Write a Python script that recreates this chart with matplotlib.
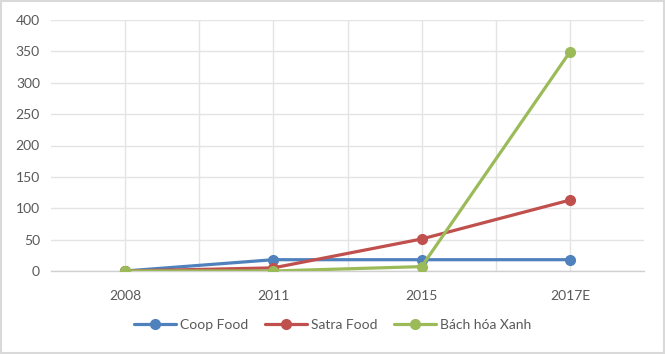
import matplotlib.pyplot as plt
from matplotlib.patches import Rectangle

years = ["2008", "2011", "2015", "2017E"]
coop_food = [0, 18, 18, 18]
satra_food = [0, 5, 51, 113]
bach_hoa_xanh = [0, 0, 7, 349]

series = [
    ("Coop Food", coop_food, "#4F81BD"),
    ("Satra Food", satra_food, "#C0504D"),
    ("Bách hóa Xanh", bach_hoa_xanh, "#9BBB59"),
]

plt.rcParams["font.family"] = ["Lato", "DejaVu Sans"]

fig = plt.figure(figsize=(6.65, 3.54), dpi=100)
ax = fig.add_axes([51 / 665, 1 - 271 / 354, 593 / 665, 251 / 354])

x = list(range(len(years)))
for name, vals, col in series:
    ax.plot(x, vals, color=col, linewidth=2.3, marker="o", markersize=7,
            label=name, solid_capstyle="round", zorder=3)

ax.set_xlim(-0.5, len(years) - 0.5)
ax.set_ylim(0, 400)
ax.set_yticks(range(0, 401, 50))
ax.set_xticks(x)
ax.set_xticklabels(years)
ax.set_xticks([i + 0.5 for i in range(len(years) - 1)], minor=True)

ax.grid(True, which="both", color="#E4E4E4", linewidth=1)
ax.set_axisbelow(True)
for s in ["top", "right", "left"]:
    ax.spines[s].set_visible(False)
ax.spines["bottom"].set_color("#D0D0D0")
ax.spines["bottom"].set_linewidth(1)
ax.tick_params(which="both", length=0)
ax.tick_params(axis="x", pad=14)
ax.tick_params(axis="y", pad=8)
for lab in ax.get_xticklabels() + ax.get_yticklabels():
    lab.set_color("#595959")
    lab.set_fontsize(10)

ax.legend(loc="center", bbox_to_anchor=(0.5, 1 - 325 / 354), bbox_transform=fig.transFigure,
          ncol=3, frameon=False, fontsize=10, labelcolor="#595959",
          handlelength=3, columnspacing=1.2, handletextpad=0.3)

fig.patches.append(Rectangle((0.002, 0.003), 0.996, 0.994, transform=fig.transFigure,
                             fill=False, edgecolor="#D9D9D9", linewidth=1.5))

fig.savefig("out.png", dpi=100)
